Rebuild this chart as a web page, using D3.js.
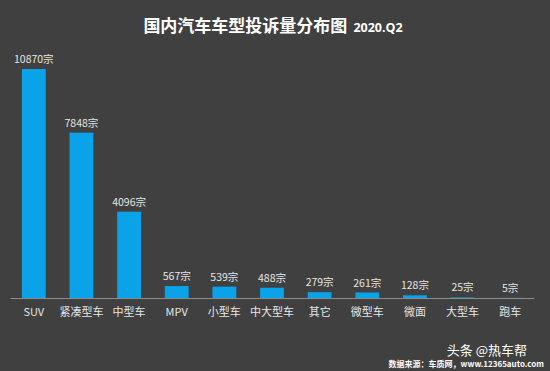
<!DOCTYPE html>
<html>
<head>
<meta charset="utf-8">
<script src="https://cdn.jsdelivr.net/npm/d3@7"></script>
<style>
  body { margin: 0; background: #404040; }
  svg { display: block; font-family: "Noto Sans CJK SC", "Open Sans", sans-serif; }
</style>
</head>
<body>
<div id="chart"></div>
<script>
const categories = ["SUV", "紧凑型车", "中型车", "MPV", "小型车", "中大型车", "其它", "微型车", "微面", "大型车", "跑车"];
const counts = [10870, 7848, 4096, 567, 539, 488, 279, 261, 128, 25, 5];

const width = 550, height = 371;
const baseY = 298;

const svg = d3.select("#chart")
    .append("svg")
    .attr("width", width)
    .attr("height", height);

svg.append("rect").attr("width", width).attr("height", height).attr("fill", "#404040");

const x = d3.scaleBand().domain(categories).range([10, 534]).paddingInner(0.5).paddingOuter(0.25);
const y = d3.scaleLinear().domain([0, 10870]).range([baseY, 69]);

// title
const title = svg.append("text")
    .attr("x", 273).attr("y", 32)
    .attr("text-anchor", "middle")
    .attr("fill", "#ffffff")
    .style("font-weight", "bold");
title.append("tspan").style("font-size", "17px").text("国内汽车车型投诉量分布图");
title.append("tspan").style("font-size", "12.5px").attr("dx", 6).attr("font-family", "Open Sans, sans-serif").text("2020.Q2");

svg.append("g")
    .selectAll("rect")
    .data(counts)
    .join("rect")
    .attr("x", (d, i) => x(categories[i]))
    .attr("width", x.bandwidth())
    .attr("y", d => y(d))
    .attr("height", d => baseY - y(d))
    .attr("fill", "#0aa2e8");

svg.append("g")
    .selectAll("text")
    .data(counts)
    .join("text")
    .attr("x", (d, i) => x(categories[i]) + x.bandwidth() / 2)
    .attr("y", d => y(d) - 6)
    .attr("text-anchor", "middle")
    .attr("fill", "#e6e6e6")
    .style("font-size", "10.5px")
    .text(d => d + "宗");

const axis = svg.append("g")
    .attr("transform", `translate(0,${baseY})`)
    .call(d3.axisBottom(x).tickSize(0).tickPadding(10));
axis.select(".domain").attr("stroke", "#8c8c8c");
axis.selectAll("text")
    .attr("fill", "#e6e6e6")
    .style("font-size", "11px")
    .style("font-family", "Noto Sans CJK SC, sans-serif");

// watermark
svg.append("text")
    .attr("x", 527).attr("y", 355)
    .attr("text-anchor", "end")
    .attr("fill", "#ffffff")
    .style("font-size", "13px")
    .text("头条 @热车帮");
svg.append("text")
    .attr("x", 544).attr("y", 367)
    .attr("text-anchor", "end")
    .attr("fill", "#ffffff")
    .style("font-size", "8px")
    .style("font-weight", "bold")
    .text("数据来源：车质网，www.12365auto.com");
</script>
</body>
</html>
